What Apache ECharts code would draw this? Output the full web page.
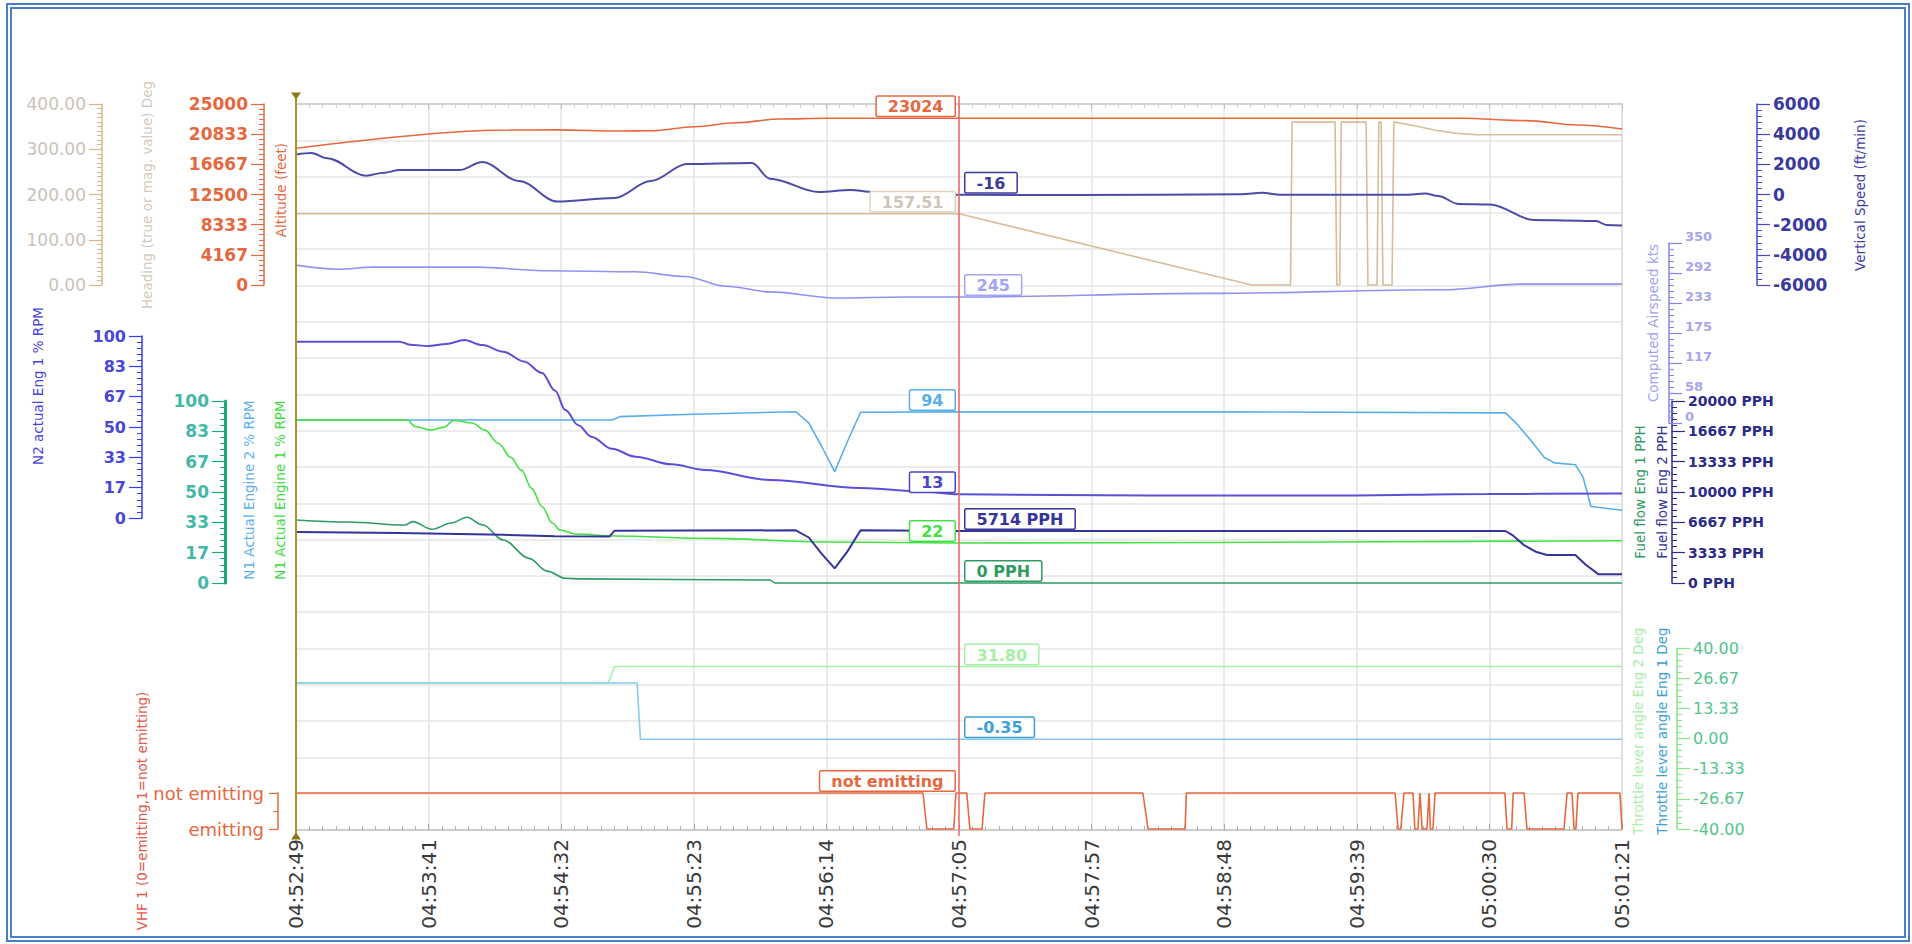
<!DOCTYPE html>
<html>
<head>
<meta charset="utf-8">
<title>Flight parameters 04:52:49 – 05:01:21</title>
<script src="https://cdn.jsdelivr.net/npm/echarts/dist/echarts.min.js"></script>
<style>
  html, body { margin: 0; padding: 0; background: #ffffff; }
  #chart { position: absolute; left: 0; top: 0; width: 1912px; height: 944px; }
  #frame {
    position: absolute; left: 6px; top: 3px; width: 1892px; height: 927px;
    border: 6px double #4a7ec8; pointer-events: none;
  }
</style>
</head>
<body>
<div id="chart"></div>
<div id="frame"></div>
<script>
// ---- time base (seconds after 04:52:49) ----
const TIME_LABELS = ['04:52:49', '04:53:41', '04:54:32', '04:55:23', '04:56:14', '04:57:05',
                     '04:57:57', '04:58:48', '04:59:39', '05:00:30', '05:01:21'];
const SPAN = 512;          // seconds covered by the time axis
const STEP = 51.2;         // seconds between labelled ticks
const CURSOR_T = 256;      // cursor position (04:57:05)

// ---- heading ----
const headingT   = [0, 256, 369, 384, 384.6, 401.2, 401.9, 403, 403.6, 413.2, 413.9, 417.4, 418.1, 419, 419.7, 423.2, 423.9, 424.4, 432, 440, 448, 456, 512];
const headingDeg = [157.5, 157.51, 0, 0, 360, 360, 0, 0, 360, 360, 0, 0, 360, 360, 0, 0, 360, 360, 352, 342, 335, 332, 332];

// ---- altitude ----
const altitudeT  = [0, 82, 100, 125, 137, 154, 170, 187, 205, 256, 450, 475, 495, 512];
const altitudeFt = [18880, 21400, 21420, 21270, 21300, 21860, 22400, 22930, 23024, 23024, 23024, 22700, 22100, 21550];

// ---- vertical speed ----
const vsT   = [0, 6, 12, 27, 34, 40, 63, 72, 86, 101, 123, 137, 151, 176, 183, 202, 214, 223, 240, 256, 300, 365, 373, 380, 428, 436, 441, 449, 461, 478, 495, 502, 506, 512];
const vsFpm = [2650, 2750, 2400, 1250, 1450, 1620, 1620, 2150, 900, -470, -230, 900, 2020, 2090, 1050, 160, 300, 160, 40, -16, -40, 20, 110, -16, -16, 60, -100, -630, -660, -1690, -1740, -1760, -2020, -2060];

// ---- computed airspeed ----
const airspeedT   = [0, 16, 30, 70, 97, 131, 150, 166, 183, 209, 235, 256, 352, 443, 473, 512];
const airspeedKts = [307, 299, 303, 303, 296, 294, 285, 266, 255, 243, 245, 245, 252, 259, 270, 270];

// ---- N2 engine 1 ----
const n2T   = [0, 40, 44, 51, 58, 65, 72, 80, 88, 95, 100, 104, 109, 114, 122, 131, 145, 158, 183, 218, 242, 256, 330, 400, 460, 512];
const n2Pct = [96.9, 96.9, 95.2, 94.5, 95.6, 97.8, 95, 91.4, 86, 79.7, 70, 59.3, 51, 44.7, 38, 33.7, 29.5, 26.4, 20.9, 16.5, 14.5, 13, 12.3, 12.3, 13.2, 13.5];

// ---- N1 engine 2 / engine 1 ----
const n1e2T   = [0, 122, 125, 150, 193, 198, 203, 208, 213, 218, 256, 360, 467, 471, 477, 482, 486, 494, 497, 500, 512];
const n1e2Pct = [89.6, 89.6, 91.4, 92.6, 94.1, 88, 75, 61.2, 78, 93.8, 94, 94, 93.5, 88, 78, 69, 66, 65, 58, 42, 40];
const n1e1T   = [0, 43, 46, 52, 57, 61, 68, 73, 78, 83, 87, 91, 95, 99, 102, 108, 123, 160, 206, 256, 512];
const n1e1Pct = [89.6, 89.6, 86, 84, 85.5, 89.3, 87.9, 84, 76.9, 69, 62, 52, 41.9, 33, 29.1, 26.9, 25.8, 24.5, 22.5, 22, 23.2];

// ---- fuel flow ----
const fuelE2T   = [0, 40, 80, 100, 121, 123, 193, 198, 203, 208, 213, 218, 256, 467, 470, 474, 479, 483, 494, 498, 503, 512];
const fuelE2Pph = [5600, 5500, 5300, 5150, 5100, 5750, 5790, 5000, 3200, 1600, 3500, 5790, 5714, 5714, 5200, 4200, 3400, 3080, 3080, 2000, 950, 950];
const fuelE1T   = [0, 20, 42, 45, 52.5, 60, 66, 72, 80, 90, 97, 104, 110, 183, 185, 256, 512];
const fuelE1Pph = [6920, 6700, 6370, 6750, 5900, 6600, 7220, 6400, 4730, 2710, 1300, 520, 450, 330, 0, 0, 0];

// ---- throttle lever angle ----
const throttleE2T   = [0, 120.5, 123, 256, 512];
const throttleE2Deg = [24.5, 24.5, 31.8, 31.8, 31.8];
const throttleE1T   = [0, 131.7, 133, 256, 512];
const throttleE1Deg = [24.5, 24.5, -0.35, -0.35, -0.35];

// ---- VHF 1 keying (0 = emitting, 1 = not emitting) ----
const vhfT     = [0, 242.1, 243.6, 254, 254.8, 256, 259, 260.2, 264.9, 266, 327, 329, 343.3, 343.8, 424.4, 425.5, 426.6, 427.8, 431.3, 432, 433.2, 434, 434.8, 436.7, 437.5, 438, 439, 439.8, 466.8, 467.6, 469.4, 470, 474.2, 475.3, 489.6, 490.8, 492.7, 493.5, 494.2, 495, 511.2, 512];
const vhfState = [1, 1, 0, 0, 1, 1, 1, 0, 0, 1, 1, 0, 0, 1, 1, 0, 0, 1, 1, 0, 0, 1, 0, 0, 1, 0, 0, 1, 1, 0, 0, 1, 1, 0, 0, 1, 1, 0, 0, 1, 1, 0];
const VHF_STATES = ['emitting', 'not emitting'];

// ---------------------------------------------------------------
const FONT = 'DejaVu Sans';
const PLOT_LEFT = 296, PLOT_RIGHT = 290;

const pairs = (ts, vs) => ts.map((t, i) => [t, vs[i]]);
const valueAt = (ts, vs, t) => vs[ts.indexOf(t)];
const clean = v => (Math.abs(v) < 1e-9 ? 0 : v);

function grid(top, height, extra) {
  return Object.assign({ left: PLOT_LEFT, right: PLOT_RIGHT, top, height, containLabel: false, outerBoundsMode: 'none' }, extra || {});
}

function timeAxis(gridIndex, visible) {
  if (!visible) return { gridIndex, type: 'value', min: 0, max: SPAN, interval: STEP, show: false };
  return {
    gridIndex, type: 'value', min: 0, max: SPAN, interval: STEP, position: 'bottom',
    axisLine: { show: true, onZero: false, lineStyle: { color: '#c4c4c4', width: 1.5 } },
    axisTick: { show: true, inside: true, length: 6, lineStyle: { color: '#a8a8a8' } },
    minorTick: { show: true, splitNumber: 10, length: 4, lineStyle: { color: '#b4b4b4' } },
    axisLabel: {
      rotate: 90, margin: 9, fontSize: 20, fontFamily: FONT, color: '#3a3a3a',
      formatter: v => TIME_LABELS[Math.round(v / STEP)]
    },
    splitLine: { show: true, lineStyle: { color: '#e4e4e4', width: 1.5 } }
  };
}

// tick marks along the top edge of the plot
const topTimeAxis = {
  gridIndex: 0, type: 'value', min: 0, max: SPAN, interval: STEP, position: 'top',
  axisLine: { show: true, onZero: false, lineStyle: { color: '#cccccc', width: 1.5 } },
  axisTick: { show: true, inside: true, length: 5, lineStyle: { color: '#c0c0c0' } },
  minorTick: { show: true, splitNumber: 10, length: 4, lineStyle: { color: '#d0d0d0' } },
  axisLabel: { show: false }, splitLine: { show: false }
};

function valueAxis(o) {
  return {
    gridIndex: o.grid, type: 'value', position: o.side, offset: o.offset,
    min: o.min, max: o.max, interval: o.interval,
    axisLine: { show: true, onZero: false, lineStyle: { color: o.line, width: o.lineWidth || 1.5 } },
    axisTick: { show: true, length: o.tick || 13, lineStyle: { color: o.line, width: 1.2 } },
    minorTick: { show: true, splitNumber: o.minor || 5, length: 5, lineStyle: { color: o.line, width: 1 } },
    axisLabel: Object.assign({
      margin: o.margin || 16, fontSize: o.fontSize || 15, fontFamily: FONT,
      fontWeight: o.bold ? 'bold' : 'normal', color: o.label, formatter: o.fmt
    }, o.labelExtra || {}),
    splitLine: { show: false }
  };
}

function cursorTag(ts, vs, side, border, text, fmt) {
  const v = valueAt(ts, vs, CURSOR_T);
  return {
    silent: true, animation: false,
    symbol: 'rect', symbolSize: 1, itemStyle: { color: 'rgba(0,0,0,0)' },
    data: [{ coord: [CURSOR_T, v], value: v }],
    label: {
      show: true,
      position: side === 'left' ? [-4, -2] : [7, -2],
      align: side === 'left' ? 'right' : 'left',
      verticalAlign: 'bottom',
      formatter: p => fmt(p.value),
      backgroundColor: '#ffffff', borderColor: border, borderWidth: 1.5, borderRadius: 1,
      padding: [2, 11, 1, 11], lineHeight: 16,
      color: text, fontSize: 16, fontWeight: 'bold', fontFamily: FONT
    }
  };
}

function line(name, xi, yi, data, color, width, extra) {
  return Object.assign({
    name, type: 'line', xAxisIndex: xi, yAxisIndex: yi, data,
    showSymbol: false, symbol: 'none', clip: false, animation: false,
    lineStyle: { color, width }, emphasis: { disabled: true }
  }, extra || {});
}

const SMOOTH = { smooth: 0.35, smoothMonotone: 'x' };

// vertical axis titles
const TITLES = [
  { text: 'Heading (true or mag. value) Deg', x: 147, y: 195, color: '#d3c9bd' },
  { text: 'Altitude (feet)', x: 281, y: 190, color: '#e5683f' },
  { text: 'Vertical Speed (ft/min)', x: 1860, y: 195, color: '#3c3ca8' },
  { text: 'Computed Airspeed kts', x: 1653, y: 323, color: '#a3a3f0' },
  { text: 'N2 actual Eng 1 % RPM', x: 38, y: 386, color: '#4646d8' },
  { text: 'N1 Actual Engine 2 % RPM', x: 249, y: 490, color: '#5fb0ee' },
  { text: 'N1 Actual Engine 1 % RPM', x: 280, y: 490, color: '#3fdc3f' },
  { text: 'Fuel flow Eng 1 PPH', x: 1640, y: 492, color: '#2f9a63' },
  { text: 'Fuel flow Eng 2 PPH', x: 1662, y: 492, color: '#34349a' },
  { text: 'Throttle lever angle Eng 2 Deg', x: 1638, y: 731, color: '#a9eea9' },
  { text: 'Throttle lever angle Eng 1 Deg', x: 1662, y: 731, color: '#3d9fd8' },
  { text: 'VHF 1 (0=emitting,1=not emitting)', x: 142, y: 811, color: '#e35a4a' }
];

const option = {
  animation: false,
  backgroundColor: '#ffffff',
  grid: [
    grid(104, 726, { show: true, borderColor: '#cccccc', borderWidth: 1.5 }), // 0 background
    grid(96, 740),   // 1 cursor lines
    grid(104, 181),  // 2 heading / altitude / vertical speed
    grid(243, 180),  // 3 airspeed
    grid(336, 182),  // 4 N2
    grid(401, 182),  // 5 N1 + fuel flow
    grid(648, 181),  // 6 throttle
    grid(793, 36)    // 7 VHF
  ],
  xAxis: [0, 1, 2, 3, 4, 5, 6, 7].map(i => timeAxis(i, i === 0)).concat([topTimeAxis]),
  yAxis: [
    { gridIndex: 0, type: 'value', min: 0, max: 20, interval: 1,
      axisLine: { show: false }, axisTick: { show: false }, axisLabel: { show: false },
      splitLine: { show: true, lineStyle: { color: '#e6e6e6', width: 1.5 } } },
    { gridIndex: 1, type: 'value', min: 0, max: 1, show: false },
    valueAxis({ grid: 2, side: 'left', offset: 194, min: 0, max: 400, interval: 100, minor: 10, fontSize: 17,
      line: '#d9b48c', label: '#c9c2ba', fmt: v => clean(v).toFixed(2) }),
    valueAxis({ grid: 2, side: 'left', offset: 32, min: 0, max: 25000, interval: 25000 / 6, minor: 6, fontSize: 17,
      line: '#e5683f', label: '#e5683f', bold: true, fmt: v => String(Math.round(v)) }),
    valueAxis({ grid: 2, side: 'right', offset: 135, min: -6000, max: 6000, interval: 2000, minor: 5, fontSize: 17,
      line: '#4848c8', label: '#3a3a9c', bold: true, fmt: v => String(Math.round(v)) }),
    valueAxis({ grid: 3, side: 'right', offset: 47, min: 0, max: 350, interval: 350 / 6, minor: 5, fontSize: 13,
      line: '#8484f0', label: '#a6a6ee', bold: true, fmt: v => String(Math.round(v)),
      labelExtra: { verticalAlign: 'bottom', lineHeight: 14 } }),
    valueAxis({ grid: 4, side: 'left', offset: 154, min: 0, max: 100, interval: 100 / 6, minor: 5, fontSize: 16,
      line: '#3a3af0', label: '#4848d8', bold: true, fmt: v => String(Math.round(v)) }),
    valueAxis({ grid: 5, side: 'left', offset: 71, min: 0, max: 100, interval: 100 / 6, minor: 5, fontSize: 17,
      line: '#1aa878', lineWidth: 3, label: '#44b8a8', bold: true, fmt: v => String(Math.round(v)) }),
    valueAxis({ grid: 5, side: 'right', offset: 50, min: 0, max: 20000, interval: 20000 / 6, minor: 5, fontSize: 14,
      line: '#2a2a90', label: '#2a2a88', bold: true, fmt: v => Math.round(v) + ' PPH',
      labelExtra: { lineHeight: 15 } }),
    valueAxis({ grid: 6, side: 'right', offset: 55, min: -40, max: 40, interval: 80 / 6, minor: 5, fontSize: 16,
      line: '#86e886', label: '#52c48c', fmt: v => clean(v).toFixed(2) }),
    valueAxis({ grid: 7, side: 'left', offset: 18, min: 0, max: 1, interval: 1, minor: 2, tick: 9,
      line: '#e5683f', label: '#e5683f', fontSize: 18, margin: 14, fmt: v => VHF_STATES[Math.round(v)] })
  ],
  graphic: TITLES.map(t => ({
    type: 'text', x: t.x, y: t.y, rotation: Math.PI / 2, silent: true,
    style: {
      text: t.text, fill: t.color, fontSize: 13.5, fontFamily: FONT,
      align: 'center', verticalAlign: 'middle', textAlign: 'center', textVerticalAlign: 'middle'
    }
  })),
  series: [
    // cursor and start marker lines across all panels
    line('cursor', 1, 1, [[0, 0.5]], 'rgba(0,0,0,0)', 0, {
      markLine: {
        silent: true, animation: false, symbol: 'none', label: { show: false },
        data: [
          { xAxis: 0, lineStyle: { color: '#a89428', width: 2, type: 'solid' } },
          { xAxis: CURSOR_T, lineStyle: { color: '#f26464', width: 1.5, type: 'solid' } }
        ]
      },
      markPoint: {
        silent: true, animation: false, symbol: 'triangle', symbolSize: [10, 7],
        itemStyle: { color: '#8a7a18' }, label: { show: false },
        data: [
          { coord: [0, 1], symbolRotate: 180 },
          { coord: [0, 0] }
        ]
      }
    }),
    line('Heading', 2, 2, pairs(headingT, headingDeg), '#d8bc9c', 1.6, {
      markPoint: cursorTag(headingT, headingDeg, 'left', '#e2d2c0', '#cfc4b8', v => v.toFixed(2))
    }),
    line('Altitude', 2, 3, pairs(altitudeT, altitudeFt), '#e5683f', 1.6, Object.assign({
      markPoint: cursorTag(altitudeT, altitudeFt, 'left', '#e5683f', '#e5683f', v => String(Math.round(v)))
    }, SMOOTH)),
    line('Computed Airspeed', 3, 5, pairs(airspeedT, airspeedKts), '#9292f2', 1.6, Object.assign({
      markPoint: cursorTag(airspeedT, airspeedKts, 'right', '#a4a4f0', '#a4a4f0', v => String(Math.round(v)))
    }, SMOOTH)),
    line('Vertical Speed', 2, 4, pairs(vsT, vsFpm), '#4c4ca8', 2, Object.assign({
      markPoint: cursorTag(vsT, vsFpm, 'right', '#3a3a9c', '#3a3a9c', v => String(Math.round(v)))
    }, SMOOTH)),
    line('N1 Eng 2', 5, 7, pairs(n1e2T, n1e2Pct), '#5aaee8', 1.6, {
      markPoint: cursorTag(n1e2T, n1e2Pct, 'left', '#5aaee8', '#5aaee8', v => String(Math.round(v)))
    }),
    line('N2 Eng 1', 4, 6, pairs(n2T, n2Pct), '#5b4fd6', 2, Object.assign({
      markPoint: cursorTag(n2T, n2Pct, 'left', '#4a44c8', '#4a44c8', v => String(Math.round(v)))
    }, SMOOTH)),
    line('N1 Eng 1', 5, 7, pairs(n1e1T, n1e1Pct), '#44e044', 1.6, Object.assign({
      markPoint: cursorTag(n1e1T, n1e1Pct, 'left', '#44e044', '#44e044', v => String(Math.round(v)))
    }, SMOOTH)),
    line('Fuel flow Eng 1', 5, 8, pairs(fuelE1T, fuelE1Pph), '#2f9a63', 1.6, Object.assign({
      markPoint: cursorTag(fuelE1T, fuelE1Pph, 'right', '#2f9a63', '#2f9a63', v => Math.round(v) + ' PPH')
    }, SMOOTH)),
    line('Fuel flow Eng 2', 5, 8, pairs(fuelE2T, fuelE2Pph), '#34349a', 2, {
      markPoint: cursorTag(fuelE2T, fuelE2Pph, 'right', '#34349a', '#34349a', v => Math.round(v) + ' PPH')
    }),
    line('Throttle Eng 2', 6, 9, pairs(throttleE2T, throttleE2Deg), '#a6f0a6', 1.6, {
      markPoint: cursorTag(throttleE2T, throttleE2Deg, 'right', '#a6f0a6', '#a6f0a6', v => v.toFixed(2))
    }),
    line('Throttle Eng 1', 6, 9, pairs(throttleE1T, throttleE1Deg), '#86cbee', 1.6, {
      markPoint: cursorTag(throttleE1T, throttleE1Deg, 'right', '#3d9fd8', '#3d9fd8', v => v.toFixed(2))
    }),
    line('VHF 1', 7, 10, pairs(vhfT, vhfState), '#e5683f', 1.6, {
      markPoint: cursorTag(vhfT, vhfState, 'left', '#e5683f', '#e5683f', v => VHF_STATES[v])
    })
  ]
};

const chart = echarts.init(document.getElementById('chart'), null, { renderer: 'svg', width: 1912, height: 944 });
chart.setOption(option);
</script>
</body>
</html>
